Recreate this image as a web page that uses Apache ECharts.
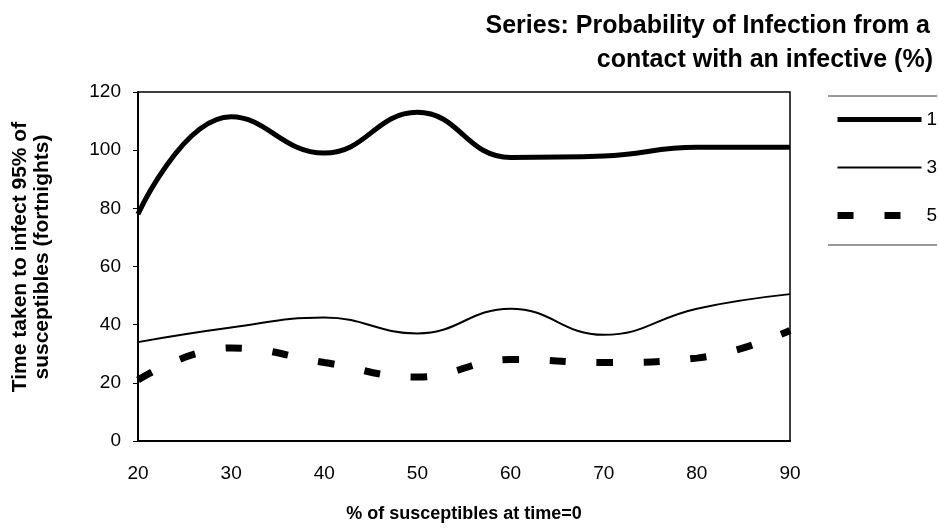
<!DOCTYPE html>
<html>
<head>
<meta charset="utf-8">
<script src="https://cdn.jsdelivr.net/npm/echarts@6/dist/echarts.min.js"></script>
<style>
  html, body { margin: 0; padding: 0; background: #fff; }
  #chart { width: 939px; height: 528px; }
</style>
</head>
<body>
<div id="chart"></div>
<script>
// % of susceptibles at time=0
const susceptibles = [20, 30, 40, 50, 60, 70, 80, 90]
// time to infect 95% (fortnights), one array per infection probability
const prob1 = [78, 111.5, 99, 113, 97.5, 98, 101, 101]
const prob3 = [34, 39, 42.5, 37, 45.5, 36.5, 45.5, 50.5]
const prob5 = [21, 32, 27, 22, 28, 27, 28.5, 38]
const seriesNames = ['1', '3', '5']

const toPairs = (vals) => susceptibles.map((x, i) => [x, vals[i]])

const font = 'Liberation Sans, Arial, sans-serif'
const lineStyles = [
  { color: '#000', width: 5 },
  { color: '#000', width: 2 },
  { color: '#000', width: 7, type: [16, 31] }
]

const chart = echarts.init(document.getElementById('chart'))

const titleStyle = {
  fontFamily: font,
  fontSize: 25,
  fontWeight: 'bold',
  color: '#000'
}

chart.setOption({
  animation: false,
  backgroundColor: '#fff',
  title: [
    { text: 'Series: Probability of Infection from a', right: 4, top: 9, textStyle: titleStyle },
    { text: 'contact with an infective (%)', right: 1, top: 43, textStyle: titleStyle }
  ],
  grid: {
    left: 138,
    right: 149,
    top: 92,
    bottom: 87,
    outerBoundsMode: 'none',
    show: true,
    borderColor: '#000',
    borderWidth: 1.5,
    backgroundColor: 'transparent'
  },
  legend: {
    orient: 'vertical',
    left: 834,
    top: 110,
    padding: 0,
    itemWidth: 84,
    itemHeight: 20,
    itemGap: 29,
    itemStyle: { opacity: 0 },
    data: seriesNames.map((name, i) => ({ name, lineStyle: lineStyles[i] })),
    textStyle: { fontFamily: font, fontSize: 19, color: '#000' }
  },
  xAxis: {
    type: 'value',
    min: 20,
    max: 90,
    interval: 10,
    name: '% of susceptibles at time=0',
    nameLocation: 'middle',
    nameGap: 64,
    nameTextStyle: { fontFamily: font, fontSize: 18, fontWeight: 'bold', color: '#000' },
    axisLine: { show: true, onZero: false, lineStyle: { color: '#000', width: 2 } },
    axisTick: { show: false },
    axisLabel: { fontFamily: font, fontSize: 19, color: '#000', margin: 23 },
    splitLine: { show: false }
  },
  yAxis: {
    type: 'value',
    min: 0,
    max: 120,
    interval: 20,
    name: 'Time taken to infect 95% of\nsusceptibles (fortnights)',
    nameLocation: 'middle',
    nameGap: 85,
    nameTextStyle: {
      fontFamily: font,
      fontSize: 21,
      fontWeight: 'bold',
      color: '#000',
      lineHeight: 22,
      padding: [0, 0, 0, 19]
    },
    axisLine: { show: true, lineStyle: { color: '#000', width: 2 } },
    axisTick: { show: true, length: 5, lineStyle: { color: '#000', width: 1 } },
    axisLabel: { fontFamily: font, fontSize: 19, color: '#000', margin: 17 },
    splitLine: { show: false }
  },
  series: [
    {
      name: seriesNames[0],
      type: 'line',
      data: toPairs(prob1),
      smooth: 0.45,
      symbol: 'none',
      lineStyle: lineStyles[0],
      itemStyle: { color: '#000' }
    },
    {
      name: seriesNames[1],
      type: 'line',
      data: toPairs(prob3),
      smooth: 0.45,
      symbol: 'none',
      lineStyle: lineStyles[1],
      itemStyle: { color: '#000' }
    },
    {
      name: seriesNames[2],
      type: 'line',
      data: toPairs(prob5),
      smooth: 0.45,
      symbol: 'none',
      lineStyle: lineStyles[2],
      itemStyle: { color: '#000' }
    }
  ],
  graphic: [
    { type: 'line', shape: { x1: 828, y1: 96, x2: 937, y2: 96 }, style: { stroke: '#333', lineWidth: 1 } },
    { type: 'line', shape: { x1: 828, y1: 245, x2: 937, y2: 245 }, style: { stroke: '#333', lineWidth: 1 } }
  ]
})

window.addEventListener('resize', () => chart.resize())
</script>
</body>
</html>
